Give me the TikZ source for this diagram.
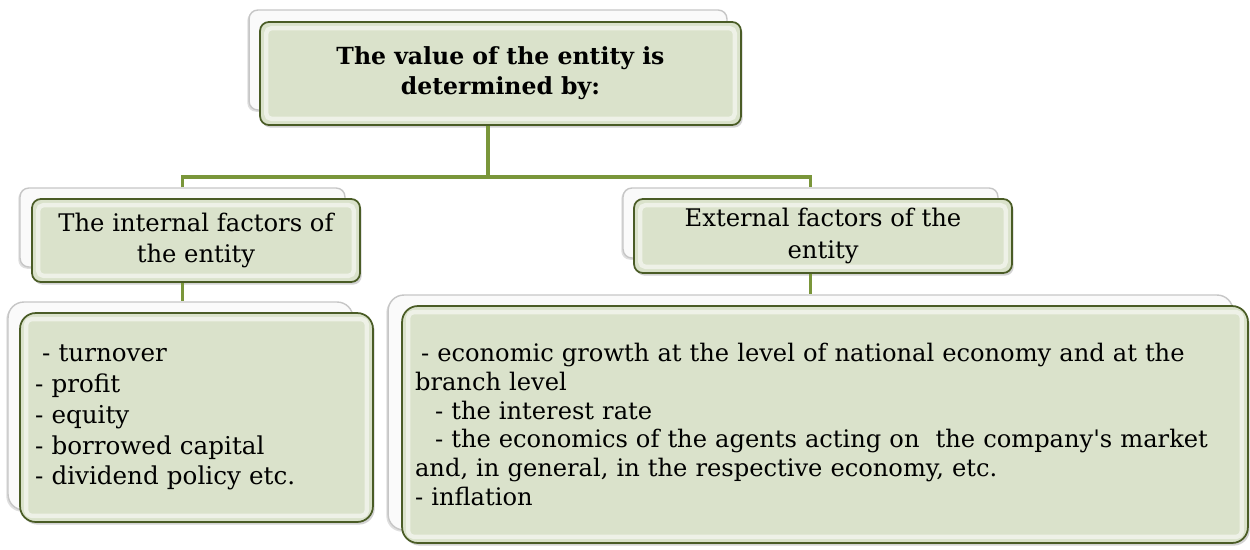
\documentclass[tikz,border=0pt]{standalone}
\usepackage{fontspec}
\setmainfont{DejaVu Serif}
\usepackage{xcolor}
\usetikzlibrary{shadows}

\definecolor{boxfill}{RGB}{218,226,203}
\definecolor{boxedge}{RGB}{74,92,38}
\definecolor{linkgreen}{RGB}{122,150,58}

\tikzset{
  backbox/.style={draw=gray!45, fill=gray!4, line width=0.8pt, rounded corners=#1,
    drop shadow={opacity=0.25, shadow xshift=-1pt, shadow yshift=-1pt}},
  frontbox/.style={draw=boxedge, fill=boxfill, line width=1pt, rounded corners=#1,
    drop shadow={opacity=0.35, shadow xshift=1pt, shadow yshift=-1.5pt},
    path picture={\draw[white, opacity=0.55, line width=2.5pt, rounded corners=3pt]
      ([shift={(3.5pt,-3.5pt)}]path picture bounding box.north west) rectangle
      ([shift={(-3.5pt,3.5pt)}]path picture bounding box.south east);}},
  link/.style={draw=linkgreen, line width=1.8pt}
}

\begin{document}
\begin{tikzpicture}[x=0.02cm, y=-0.02cm]
        % Factors that determine the value of the entity
        \useasboundingbox (0,0) rectangle (1250,549);

        \node[backbox=5pt, minimum width=9.56cm, minimum height=2cm] (topback) at (488,60) {};
        \node[frontbox=5pt, minimum width=9.62cm, minimum height=2.06cm, align=center,
              font=\fontsize{13.4}{17}\selectfont\bfseries] (top) at (500.5,73.5)
              {The value of the entity is\\determined by:};

        \node[backbox=5pt, minimum width=6.5cm, minimum height=1.58cm] (inback) at (182.5,227.5) {};
        \node[frontbox=5pt, minimum width=6.56cm, minimum height=1.66cm, align=center,
              font=\fontsize{13.8}{18}\selectfont] (in) at (196,240.5)
              {The internal factors of\\the entity};

        \node[backbox=5pt, minimum width=7.5cm, minimum height=1.4cm] (exback) at (810.5,223) {};
        \node[frontbox=5pt, minimum width=7.56cm, minimum height=1.48cm, align=center,
              font=\fontsize{13.8}{18}\selectfont] (ex) at (823,236)
              {External factors of the\\entity};

        \node[backbox=9pt, minimum width=6.9cm, minimum height=4.16cm] (inlistback) at (180.5,406) {};
        \node[frontbox=9pt, minimum height=4.18cm, text width=6.46cm, inner xsep=0.3cm, align=left,
              font=\fontsize{14}{17.6}\selectfont] (inlist) at (196.5,417.5)
              {\hspace{0.14cm}- turnover\\- profit\\- equity\\- borrowed capital\\- dividend policy etc.};

        \node[backbox=9pt, minimum width=16.9cm, minimum height=4.7cm] (exlistback) at (810.5,412.5) {};
        \node[frontbox=9pt, minimum height=4.74cm, text width=16.4cm, inner xsep=0.26cm, align=left,
              font=\fontsize{13.75}{16.4}\selectfont] (exlist) at (825,424.5)
              {\hspace{0.12cm}- economic growth at the level of national economy and at the\\
               branch level\\
               \hspace{0.4cm}- the interest rate\\
               \hspace{0.4cm}- the economics of the agents acting on\ \ the company\textquotesingle s market\\
               and, in general, in the respective economy, etc.\\
               - inflation};

        \coordinate (bus) at (488,177);
        \draw[link] (topback |- top.south) -- (topback |- bus);
        \draw[link] (inback.north) -- (inback |- bus) -- (exback |- bus) -- (exback.north);
        \draw[link] (inback |- in.south) -- (inback |- inlistback.north);
        \draw[link] (exback |- ex.south) -- (exback |- exlistback.north);
\end{tikzpicture}
\end{document}
